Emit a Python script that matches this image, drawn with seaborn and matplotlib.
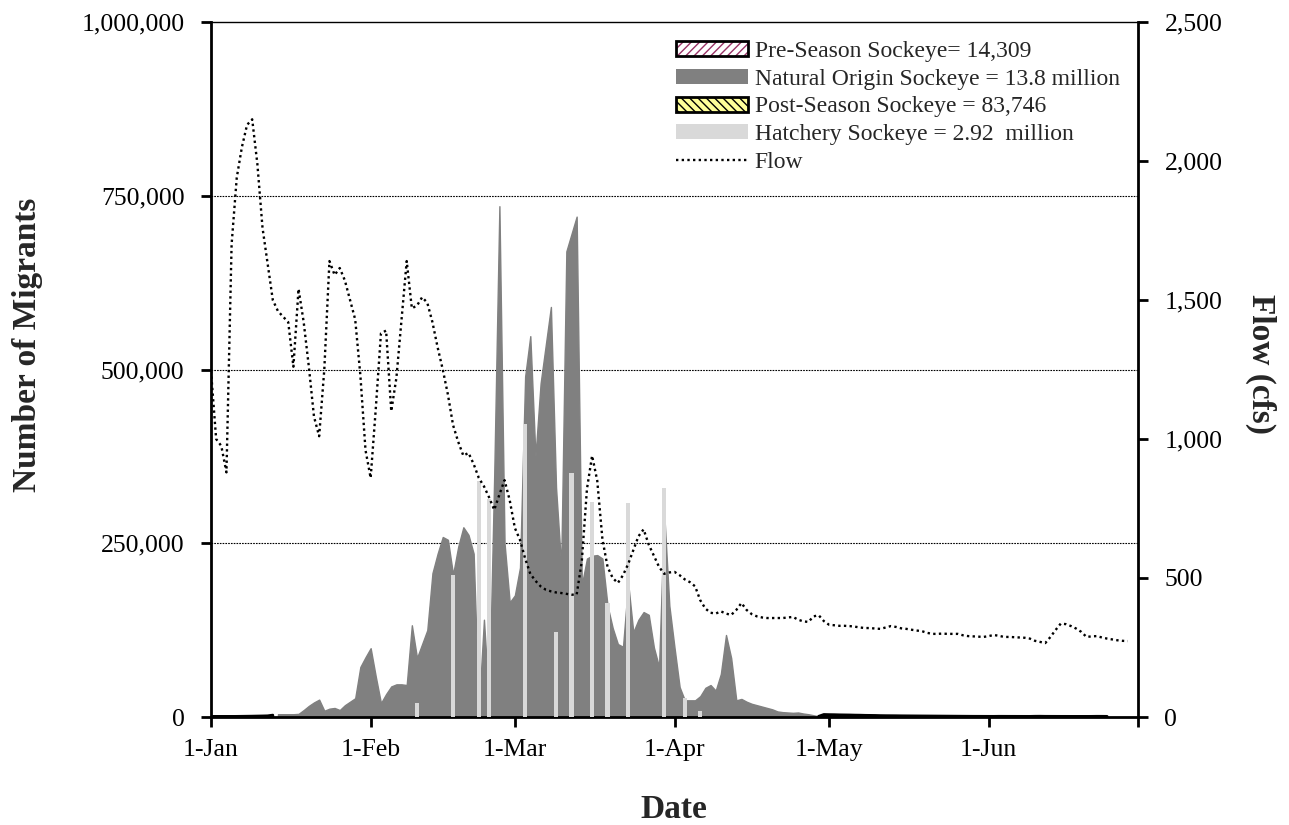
import numpy as np
import matplotlib
matplotlib.use("Agg")
import matplotlib.pyplot as plt
import seaborn as sns
from matplotlib.patches import Patch
from matplotlib.lines import Line2D
from matplotlib.legend_handler import HandlerTuple
from matplotlib.ticker import FuncFormatter

sns.set_style("ticks")
plt.rcParams["font.family"] = ["Liberation Serif", "DejaVu Serif"]
plt.rcParams["hatch.linewidth"] = 1.0

# ---- data (day 0 = 1 January) ----
month_starts = [0, 31, 59, 90, 120, 151, 180]
month_labels = ["1-Jan", "1-Feb", "1-Mar", "1-Apr", "1-May", "1-Jun", ""]

# daily pre-season sockeye, from 1 Jan
pre_season_start = 0
pre_season = [300, 450, 600, 700, 820, 900, 1000, 1100, 1200, 1350, 1500, 1689, 2700]

# daily natural-origin sockeye
natural_start = 13
natural = [4000, 4000, 4000, 4000, 4500, 10000, 16000, 21000, 25000, 9000, 12000,
           13000, 10000, 17000, 22000, 27000, 72000, 86000, 99000, 58000, 20000,
           33000, 44000, 47000, 47000, 46000, 132000, 85000, 105000, 125000, 207000,
           235000, 259000, 255000, 205000, 245000, 273000, 262000, 235000, 10000, 140000,
           20000, 350000, 735000, 250000, 165000, 175000, 215000, 490000, 548000, 375000,
           480000, 535000, 590000, 330000, 216000, 670000, 695000, 720000, 190000, 228000,
           232000, 233000, 228000, 160000, 128000, 105000, 101000, 193000, 122000, 140000,
           151000, 147000, 100000, 72000, 294000, 160000, 100000, 43000, 24000, 24000,
           24000, 30000, 42000, 46000, 38000, 62000, 118000, 85000, 24000, 26000,
           22000, 19000, 17000, 15000, 13000, 11000, 8000, 7000, 6500, 6000,
           6500, 5000, 4000, 2500, 1000]

# daily post-season sockeye
post_season_start = 118
post_season = [1000, 3600, 3400, 3300, 3100, 3000, 2900, 2700, 2600, 2400, 2300, 2200, 2000,
               1900, 1850, 1800, 1700, 1650, 1600, 1550, 1500, 1450, 1400,
               1350, 1300, 1250, 1200, 1150, 1100, 1050, 1000, 980, 950,
               930, 920, 1010, 980, 960, 940, 920, 900, 890, 1050, 1100, 980,
               950, 930, 910, 900, 880, 870, 860, 850, 900, 1000, 980, 906]

# hatchery releases (day, count)
hatchery_days = [40, 47, 52, 54, 61, 67, 70, 74, 77, 81, 88, 92, 95]
hatchery = [20000, 204000, 340000, 314000, 422000, 122000, 351000,
            309000, 164000, 308000, 330000, 27000, 9000]

# daily mean river flow (cfs), from 1 Jan
flow_cfs = [1245, 1000, 975, 880, 1700, 1940, 2050, 2130, 2150, 1990,
            1760, 1630, 1500, 1460, 1440, 1420, 1260, 1540, 1420, 1260,
            1080, 1010, 1250, 1640, 1590, 1615, 1570, 1500, 1430, 1230,
            960, 860, 1110, 1380, 1390, 1100, 1220, 1430, 1640, 1470,
            1480, 1510, 1490, 1420, 1330, 1250, 1160, 1050, 990, 940,
            950, 910, 860, 830, 790, 745, 800, 852, 780, 680,
            637, 570, 515, 490, 470, 458, 452, 448, 446, 443,
            440, 440, 560, 820, 940, 850, 640, 540, 500, 482,
            510, 550, 600, 650, 675, 620, 580, 540, 515, 520,
            522, 510, 495, 485, 470, 420, 390, 375, 372, 380,
            372, 367, 385, 410, 385, 370, 362, 358, 356, 356,
            356, 356, 358, 360, 350, 344, 342, 362, 366, 345,
            332, 330, 328, 328, 327, 325, 322, 320, 320, 318,
            317, 322, 327, 324, 319, 317, 314, 311, 309, 303,
            299, 299, 300, 299, 299, 299, 294, 291, 290, 289,
            288, 291, 295, 292, 288, 288, 287, 286, 285, 282,
            274, 270, 266, 288, 313, 336, 334, 327, 318, 306,
            288, 290, 291, 286, 282, 279, 276, 274, 273]

migrant_ticks = [0, 250000, 500000, 750000, 1000000]
flow_ticks = [0, 500, 1000, 1500, 2000, 2500]

legend_labels = ["Pre-Season Sockeye= 14,309",
                 "Natural Origin Sockeye = 13.8 million",
                 "Post-Season Sockeye = 83,746",
                 "Hatchery Sockeye = 2.92  million",
                 "Flow"]

# ---- styles ----
NAT_COLOR = "#808080"
HATCH_COLOR = "#d9d9d9"
PRE_HATCH = "#993366"
POST_FACE = "#ffff99"
FLOW_LS = (0, (1, 1.4))

fig = plt.figure(figsize=(12.89, 8.25), dpi=100)
ax = fig.add_axes([211 / 1289, 1 - 717 / 825, 927 / 1289, 695 / 825])
ax2 = ax.twinx()

# horizontal reference lines
for v in migrant_ticks[1:-1]:
    ax.axhline(v, color="black", lw=0.8, ls=(0, (1.5, 1)), zorder=0)

pre_days = np.arange(pre_season_start, pre_season_start + len(pre_season))
nat_days = np.arange(natural_start, natural_start + len(natural))
post_days = np.arange(post_season_start, post_season_start + len(post_season))

ax.fill_between(nat_days, natural, facecolor=NAT_COLOR, edgecolor=NAT_COLOR,
                lw=1.0, joinstyle="round", zorder=2)
ax.bar(hatchery_days, hatchery, width=0.8, color=HATCH_COLOR, lw=0, zorder=3)

ax.fill_between(pre_days, pre_season, facecolor="white", edgecolor=PRE_HATCH,
                hatch="////", lw=0, zorder=4)
ax.fill_between(pre_days, pre_season, facecolor="none", edgecolor="black",
                lw=2, zorder=4.1)
ax.fill_between(post_days, post_season, facecolor=POST_FACE, edgecolor="black",
                hatch="\\\\\\\\", lw=2, zorder=4)

sns.lineplot(x=np.arange(len(flow_cfs)), y=flow_cfs, ax=ax2, color="black",
             lw=1.7, linestyle=FLOW_LS, legend=False)

# ---- axes ----
ax.set_xlim(0, 180)
ax.set_ylim(0, 1000000)
ax2.set_ylim(0, 2500)

ax.set_xticks(month_starts)
ax.set_xticklabels(month_labels)
ax.set_yticks(migrant_ticks)
ax.yaxis.set_major_formatter(FuncFormatter(lambda v, p: f"{int(v):,}"))
ax2.set_yticks(flow_ticks)
ax2.yaxis.set_major_formatter(FuncFormatter(lambda v, p: f"{int(v):,}"))

ax.tick_params(axis="both", direction="out", length=7, width=2,
               labelsize=18.5, colors="black")
ax.tick_params(axis="x", pad=9)
ax.tick_params(axis="y", pad=12)
ax2.tick_params(axis="y", direction="out", length=7, width=2,
                labelsize=18.5, colors="black", pad=12)

ax.set_xlabel("")
ax.set_ylabel("")
ax2.set_ylabel("")

for s in ["left", "bottom"]:
    ax.spines[s].set_linewidth(2)
    ax.spines[s].set_color("black")
ax.spines["top"].set_linewidth(1)
ax.spines["top"].set_color("black")
ax.spines["right"].set_visible(False)
for s in ["left", "top", "bottom"]:
    ax2.spines[s].set_visible(False)
ax2.spines["right"].set_linewidth(2)
ax2.spines["right"].set_color("black")

fig.text(28 / 1289, 1 - 345 / 825, "Number of Migrants", rotation=90,
         ha="center", va="center", fontsize=24, fontweight="bold")
fig.text(1261 / 1289, 1 - 364 / 825, "Flow (cfs)", rotation=270,
         ha="center", va="center", fontsize=24, fontweight="bold")
fig.text(674 / 1289, 1 - 809 / 825, "Date", ha="center", va="center",
         fontsize=24, fontweight="bold")

# ---- legend ----
handles = [
    (Patch(facecolor="white", edgecolor=PRE_HATCH, hatch="////", lw=0),
     Patch(facecolor="none", edgecolor="black", lw=2)),
    Patch(facecolor=NAT_COLOR, edgecolor="none"),
    Patch(facecolor=POST_FACE, edgecolor="black", hatch="\\\\\\\\", lw=2),
    Patch(facecolor=HATCH_COLOR, edgecolor="none"),
    Line2D([], [], color="black", lw=1.7, ls=FLOW_LS),
]
ax2.legend(handles, legend_labels,
           handler_map={tuple: HandlerTuple(ndivide=1, pad=0)},
           loc="upper left", bbox_to_anchor=(0.5016, 0.9724),
           frameon=False, fontsize=17, handlelength=3.05, handleheight=0.6,
           handletextpad=0.28, labelspacing=0.28, borderpad=0, borderaxespad=0)

fig.savefig("out.png", dpi=100)
